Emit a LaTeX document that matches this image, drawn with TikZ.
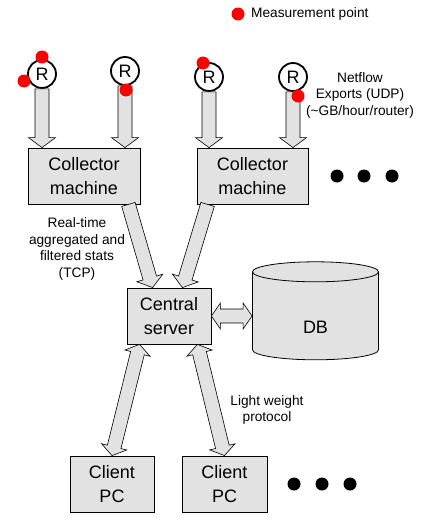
\documentclass[tikz,border=0pt]{standalone}
\usepackage{fontspec}
\setmainfont{Liberation Sans}
\usetikzlibrary{calc,shapes.geometric}
\definecolor{boxgray}{RGB}{226,226,226}
\definecolor{mpred}{RGB}{255,0,0}

\begin{document}
\begin{tikzpicture}[x=1pt,y=-1pt,font=\fontsize{13.7}{16.5}\selectfont]

	\tikzstyle{mybox}=[draw,fill=boxgray,line width=0.8pt,inner sep=0pt,align=center,font=\fontsize{18}{23.5}\selectfont]
	\tikzstyle{myrouter}=[circle,draw,fill=white,line width=1.8pt,minimum size=28pt,inner sep=0pt,font=\fontsize{18}{18}\selectfont]
	\tikzstyle{mydb}=[cylinder,shape border rotate=90,aspect=0.8,draw,fill=boxgray,line width=0.8pt,minimum width=126pt,minimum height=98pt,inner sep=0pt,text height=35pt,text depth=0pt,font=\fontsize{18}{18}\selectfont]
	\tikzstyle{myred}=[fill=mpred]
	\tikzstyle{myarrow}=[draw,fill=boxgray,line width=0.6pt,line join=miter]

	\useasboundingbox (0,0) rectangle (430,530);

	\fill[myred] (238,14) circle (6.5pt);
	\node[anchor=west,inner sep=0pt] (legend) at (251,14) {Measurement point};

	\foreach \n/\x/\y in {r1/42/74,r2/125/71,r3/209/77,r4/293/77}{ \node[myrouter] (\n) at (\x,\y) {R};}

	\node[mybox,minimum width=112pt,minimum height=56pt] (c1) at (84,176) {Collector\\machine};
	\node[mybox,minimum width=111pt,minimum height=56pt] (c2) at (252.5,176) {Collector\\machine};
	\node[mybox,minimum width=84pt,minimum height=56pt] (srv) at (169,316) {Central\\server};
	\node[mydb] (db) at (315.5,316) {DB};
	\node[mybox,minimum width=84pt,minimum height=56pt] (cl1) at (112,484) {Client\\PC};
	\node[mybox,minimum width=85pt,minimum height=56pt] (cl2) at (224.5,484) {Client\\PC};

	\node[align=center] (netflow) at (360,95) {Netflow\\Exports (UDP)\\(\textasciitilde GB/hour/router)};
	\node[align=center] (tcp) at (77,249) {Real-time\\aggregated and\\filtered stats\\(TCP)};
	\node[align=center] (light) at (267,410) {Light weight\\protocol};

	\coordinate (c1out) at ([xshift=-12pt]c1.south east);
	\coordinate (c2out) at ([xshift=11pt]c2.south west);
	\coordinate (srvin1) at ([xshift=26pt]srv.north west);
	\coordinate (srvin2) at ([xshift=-29pt]srv.north east);
	\coordinate (srvout1) at ([xshift=13pt]srv.south west);
	\coordinate (srvout2) at ([xshift=-14pt]srv.south east);

	% one way
	\foreach \a/\b in {r1.south/r1.south |- c1.north, r2.south/r2.south |- c1.north, r3.south/r3.south |- c2.north, r4.south/r4.south |- c2.north, c1out/srvin1, c2out/srvin2}{
		\draw[myarrow] let \p1=(\a), \p2=(\b), \n1={atan2(\y2-\y1,\x2-\x1)}, \n2={veclen(\x2-\x1,\y2-\y1)} in
			[shift={(\p1)},rotate=\n1] (0pt,7pt) -- (\n2-10pt,7pt) -- (\n2-10pt,13.5pt) -- (\n2+0pt,0pt) -- (\n2-10pt,-13.5pt) -- (\n2-10pt,-7pt) -- (0pt,-7pt) -- cycle;}
	% both ways
	\foreach \a/\b in {srvout1/cl1.north, srvout2/cl2.north, srv.east/db.west}{
		\draw[myarrow] let \p1=(\a), \p2=(\b), \n1={atan2(\y2-\y1,\x2-\x1)}, \n2={veclen(\x2-\x1,\y2-\y1)} in
			[shift={(\p1)},rotate=\n1] (0pt,0pt) -- (9pt,13pt) -- (9pt,7pt) -- (\n2-9pt,7pt) -- (\n2-9pt,13pt) -- (\n2+0pt,0pt) -- (\n2-9pt,-13pt) -- (\n2-9pt,-7pt) -- (9pt,-7pt) -- (9pt,-13pt) -- cycle;}

	\foreach \r/\dx/\dy in {r1/0/-17,r1/-18/7,r2/1/19,r3/-6/-14,r4/5/19}{ \fill[myred] (\r) ++(\dx,\dy) circle (6.5pt);}

	\foreach \x in {337,364,392}{ \fill (\x,176) circle (6.5pt);}
	\foreach \x in {294,322,350}{ \fill (\x,484) circle (6.5pt);}
\end{tikzpicture}
\end{document}
